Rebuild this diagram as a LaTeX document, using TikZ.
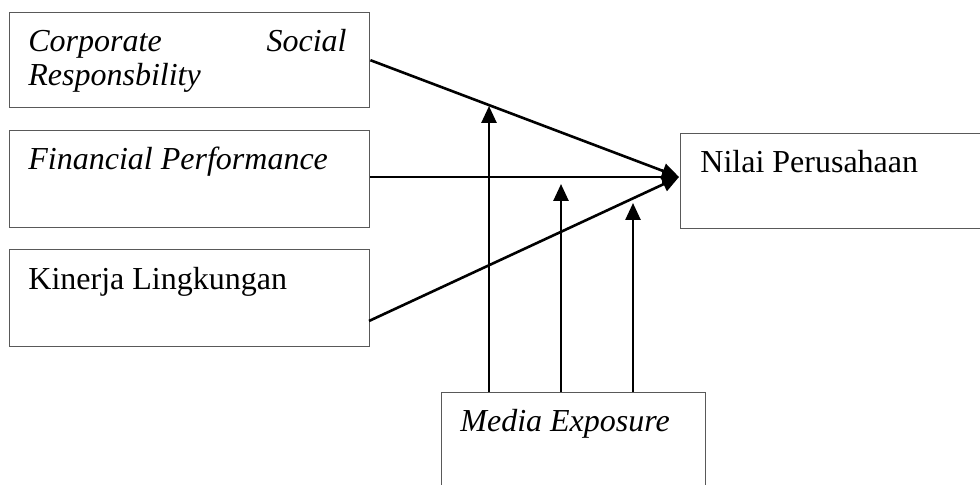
\documentclass[tikz,border=0pt]{standalone}
\usepackage{fontspec}
\setmainfont{Liberation Serif}
\usetikzlibrary{arrows.meta}
\begin{document}
\begin{tikzpicture}[x=0.5pt,y=-0.5pt,
  box/.style={draw=black!65, line width=0.7pt, rectangle, inner sep=0pt, anchor=north west},
  lbl/.style={inner sep=0pt, anchor=base west, font=\fontsize{16}{19}\selectfont},
  arr/.style={line width=1.3pt, -{Triangle[length=8.5pt,width=7.5pt]}}]
\useasboundingbox (0,0) rectangle (980,485);
\clip (0,0) rectangle (980,485);
% boxes
\node[box, minimum width=180pt, minimum height=47.5pt] (csr) at (9,12) {};
\node[box, minimum width=180pt, minimum height=48.5pt] (fp) at (9,130) {};
\node[box, minimum width=180pt, minimum height=48.5pt] (kl) at (9,249) {};
\node[box, minimum width=160pt, minimum height=47.5pt] (nilai) at (680,133) {};
\node[box, minimum width=132pt, minimum height=60pt] (media) at (441,392) {};
% texts
\node[lbl] (t-corp) at (28,52) {\itshape Corporate};
\node[lbl, anchor=base east] (t-soc) at (347,52) {\itshape Social};
\node[lbl] (t-resp) at (28,86) {\itshape Responsbility};
\node[lbl] (t-fp) at (28,170) {\itshape Financial Performance};
\node[lbl] (t-kl) at (28,290) {Kinerja Lingkungan};
\node[lbl] (t-nilai) at (700,173) {Nilai Perusahaan};
\node[lbl] (t-media) at (460,432) {\itshape Media Exposure};
% coordinates
\coordinate (hub) at (679,177);
\coordinate (klout) at (369,321);
\coordinate (m1) at (489,106);
\coordinate (m2) at (561,184);
\coordinate (m3) at (633,203);
% connectors
\draw[arr] (csr.east) -- (hub);
\draw[arr] (fp.east |- hub) -- (hub);
\draw[arr] (klout) -- (hub);
\draw[arr] (media.north -| m1) -- (m1);
\draw[arr] (media.north -| m2) -- (m2);
\draw[arr] (media.north -| m3) -- (m3);
\end{tikzpicture}
\end{document}
